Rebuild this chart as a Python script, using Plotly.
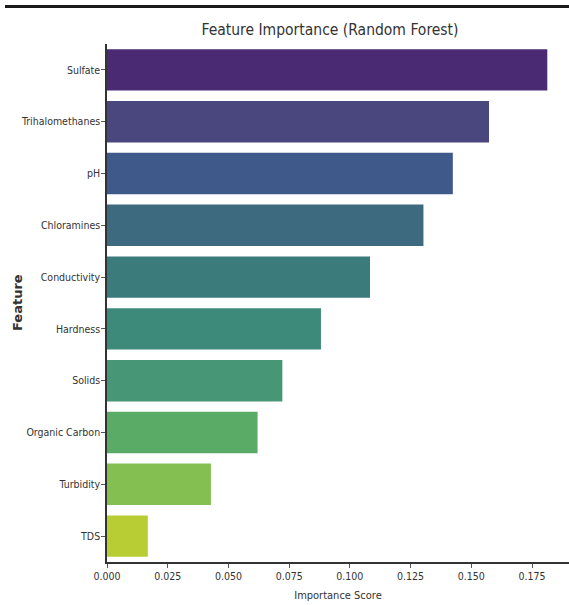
import plotly.graph_objects as go

features = ["Sulfate", "Trihalomethanes", "pH", "Chloramines", "Conductivity",
            "Hardness", "Solids", "Organic Carbon", "Turbidity", "TDS"]
importance = [0.1813, 0.1573, 0.1424, 0.1303, 0.1083, 0.0881, 0.0722, 0.0620, 0.0428, 0.0168]
bar_colors = ["#4b2a74", "#4a477f", "#3f5a8a", "#3d6a7e", "#3b7b7c",
              "#3e8a7a", "#479777", "#5aab66", "#84bf52", "#b8cc34"]
x_ticks = [0.0, 0.025, 0.05, 0.075, 0.1, 0.125, 0.15, 0.175]

W, H = 569, 605
L, R, T, B = 107, 0, 44, 43
PW = W - L - R

narrow = "DejaVu Sans Condensed, Liberation Sans, Arial, sans-serif"

fig = go.Figure(go.Bar(
    x=importance, y=features, orientation="h",
    marker=dict(color=bar_colors, line=dict(width=0)),
))

fig.update_layout(
    width=W, height=H,
    margin=dict(l=L, r=R, t=T, b=B),
    paper_bgcolor="white", plot_bgcolor="white",
    bargap=0.2,
    showlegend=False,
    title=dict(text="Feature Importance (Random Forest)",
               x=330 / W, xref="container", xanchor="center",
               y=1 - 30 / H, yref="container", yanchor="middle",
               font=dict(family=narrow, size=15.5, color="#333333")),
    xaxis=dict(range=[0, PW / 2428.6], tickvals=x_ticks, tickformat=".3f",
               automargin=False,
               showline=True, linecolor="#333333", linewidth=1.5,
               ticks="outside", ticklen=4, tickcolor="#555555",
               showgrid=False, zeroline=False,
               tickfont=dict(family=narrow, size=10.5, color="#333333"),
               title=dict(text="Importance Score", standoff=10,
                          font=dict(family=narrow, size=11, color="#333333"))),
    yaxis=dict(categoryorder="array", categoryarray=features, range=[9.5, -0.5],
               automargin=False,
               showline=True, linecolor="#333333", linewidth=1.5,
               ticks="outside", ticklen=4, tickcolor="#555555",
               ticklabelstandoff=-1,
               showgrid=False, zeroline=False,
               tickfont=dict(family=narrow, size=10.5, color="#333333")),
    annotations=[dict(text="Feature", textangle=-90, showarrow=False,
                      xref="paper", yref="paper", x=(17 - L) / PW, y=0.5,
                      xanchor="center", yanchor="middle",
                      font=dict(family="DejaVu Sans", size=13, color="#333333", weight="bold"))],
    shapes=[dict(type="line", xref="paper", yref="paper",
                 x0=(5 - L) / PW, x1=1.0,
                 y0=(H - B - 6.5) / (H - T - B), y1=(H - B - 6.5) / (H - T - B),
                 line=dict(color="#1a1a1a", width=3))],
)

fig.write_html(
    "out.html",
    config={"displayModeBar": False},
    post_script="document.body.style.margin='0';document.body.style.overflow='hidden';",
)
